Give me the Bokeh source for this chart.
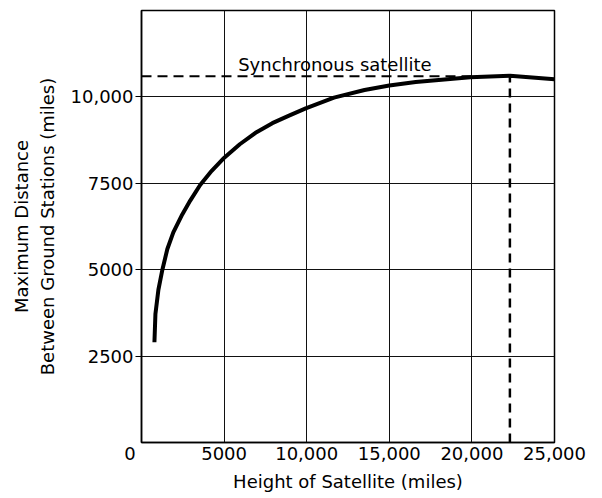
from bokeh.plotting import figure
from bokeh.models import Range1d, FixedTicker, Label
from bokeh.embed import file_html
from bokeh.resources import INLINE

# ---- data ----
height_miles = [783, 843, 1023, 1264, 1565, 1926, 2468, 2950, 3550, 4250,
                4940, 5950, 6960, 7920, 8930, 9940, 11650, 13500, 15000,
                16600, 19900, 22300, 25000]
max_distance = [2900, 3720, 4420, 5000, 5600, 6080, 6600, 7000, 7450, 7860,
                8210, 8630, 8980, 9240, 9460, 9670, 9980, 10200, 10330,
                10430, 10570, 10610, 10510]

sync_height = 22300
sync_distance = 10600

x_ticks = [0, 5000, 10000, 15000, 20000, 25000]
# the origin "0" sits left of the corner: padded with figure spaces
x_tick_labels = ["0\u2007\u2007", "5000", "10,000", "15,000", "20,000", "25,000"]
y_ticks = [2500, 5000, 7500, 10000]
y_tick_labels = ["2500", "5000", "7500", "10,000"]

FONT = "DejaVu Sans"

p = figure(width=602, height=498, output_backend="svg", toolbar_location=None,
           x_range=Range1d(0, 25000), y_range=Range1d(0, 12500),
           min_border_left=141, min_border_right=48, min_border_top=10,
           min_border_bottom=56)

p.background_fill_color = "white"
p.border_fill_color = "white"
p.outline_line_color = "black"
p.outline_line_width = 1.5

# axes
p.xaxis.ticker = FixedTicker(ticks=x_ticks)
p.yaxis.ticker = FixedTicker(ticks=y_ticks)
p.xaxis.major_label_overrides = dict(zip(x_ticks, x_tick_labels))
p.yaxis.major_label_overrides = dict(zip(y_ticks, y_tick_labels))
p.xaxis.minor_tick_line_color = None
p.yaxis.minor_tick_line_color = None
p.xaxis.major_tick_line_color = None
p.xaxis.major_tick_out = 0
p.xaxis.major_tick_in = 0
p.yaxis.major_tick_out = 6
p.yaxis.major_tick_in = 0
p.yaxis.major_tick_line_color = "black"
p.xaxis.major_label_standoff = 0
p.yaxis.major_label_standoff = 2

for ax in (p.xaxis, p.yaxis):
    ax.axis_line_color = "black"
    ax.axis_line_width = 1.5
    ax.major_label_text_font = FONT
    ax.major_label_text_font_size = "18px"
    ax.major_label_text_color = "black"
    ax.axis_label_text_font = FONT
    ax.axis_label_text_font_size = "18px"
    ax.axis_label_text_font_style = "normal"
    ax.axis_label_text_color = "black"

p.xaxis.axis_label = "Height of Satellite (miles)"
p.xaxis.axis_label_standoff = 4
p.yaxis.axis_label = "Maximum Distance\nBetween Ground Stations (miles)"
p.yaxis.axis_label_standoff = 10

# grid
p.xgrid.grid_line_color = "#111111"
p.ygrid.grid_line_color = "#111111"
p.xgrid.grid_line_width = 1
p.ygrid.grid_line_width = 1

# synchronous satellite dashed lines
p.line([0, sync_height], [sync_distance, sync_distance], line_color="black",
       line_width=2, line_dash="10 6")
p.line([sync_height, sync_height], [0, sync_distance], line_color="black",
       line_width=2.5, line_dash="9 6")

# main curve
p.line(height_miles, max_distance, line_color="black", line_width=4,
       line_join="round", line_cap="butt")

p.add_layout(Label(x=5850, y=10950, text="Synchronous satellite",
                   text_align="left", text_baseline="alphabetic",
                   text_font=FONT, text_font_size="18px", text_color="black"))

open("out.html", "w").write(file_html(p, INLINE))
